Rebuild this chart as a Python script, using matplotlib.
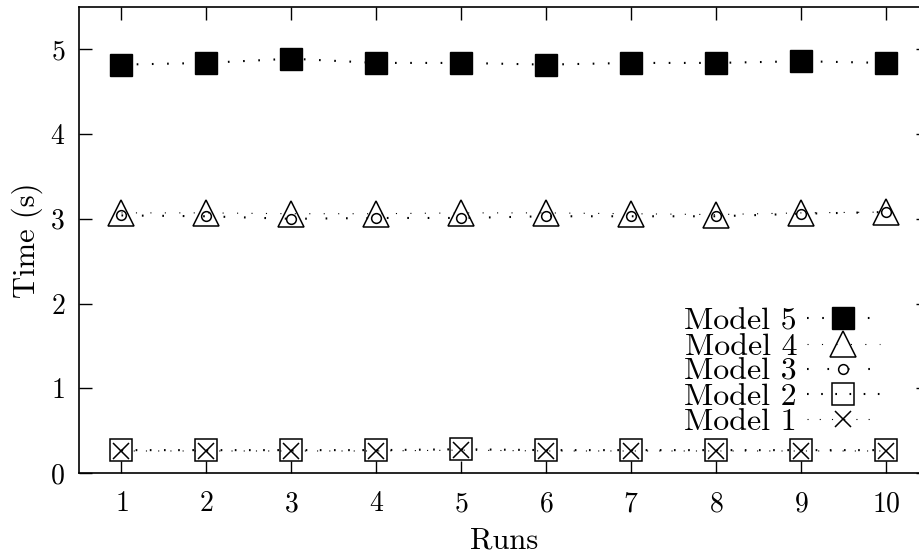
import numpy as np
import matplotlib
matplotlib.use('Agg')
import matplotlib.pyplot as plt

plt.rcParams['font.family'] = ['cmr10', 'DejaVu Serif']
plt.rcParams['axes.formatter.use_mathtext'] = True
plt.rcParams['font.size'] = 22

runs = [1, 2, 3, 4, 5, 6, 7, 8, 9, 10]
model5 = [4.82, 4.84, 4.89, 4.84, 4.84, 4.82, 4.84, 4.84, 4.86, 4.84]
model4 = [3.07, 3.07, 3.06, 3.06, 3.07, 3.07, 3.06, 3.05, 3.07, 3.08]
model3 = [3.04, 3.03, 3.00, 3.01, 3.01, 3.03, 3.03, 3.03, 3.06, 3.08]
model2 = [0.27, 0.27, 0.27, 0.27, 0.28, 0.27, 0.27, 0.27, 0.27, 0.27]
model1 = [0.26, 0.26, 0.26, 0.26, 0.27, 0.26, 0.26, 0.26, 0.26, 0.26]
labels = ['Model 1', 'Model 2', 'Model 3', 'Model 4', 'Model 5']

fig = plt.figure(figsize=(9.2, 5.53), dpi=100)
ax = fig.add_axes([79/920, 80/553, 849.5/920, 466/553])

h1, = ax.plot(runs, model1, color='black', lw=0.8, ls=(0, (1, 10)),
              marker='x', ms=11, mew=1.1, label=labels[0])
h2, = ax.plot(runs, model2, color='black', lw=1.5, ls=(0, (0.8, 6)),
              marker='s', ms=16, mew=1.1, mfc='none', mec='black', label=labels[1])
h3, = ax.plot(runs, model3, color='black', lw=1.5, ls=(0, (0.8, 9)),
              marker='o', ms=7, mew=1.1, mfc='none', mec='black', label=labels[2])
h4, = ax.plot(runs, model4, color='black', lw=0.8, ls=(0, (1, 12)),
              marker='^', ms=19, mew=1.1, mfc='none', mec='black', label=labels[3])
h5, = ax.plot(runs, model5, color='black', lw=1.5, ls=(0, (0.8, 6.5)),
              marker='s', ms=16, mfc='black', mec='black', label=labels[4])

ax.set_xlim(0.5, 10.5)
ax.set_ylim(0, 5.5)
ax.set_xticks(runs)
ax.set_yticks([0, 1, 2, 3, 4, 5])
ax.tick_params(direction='in', length=9, width=1, top=True, right=True, labelsize=20)
ax.tick_params(axis='x', pad=13)
ax.tick_params(axis='y', pad=10)
for s in ax.spines.values():
    s.set_linewidth(1.2)

ax.set_xlabel('Runs', labelpad=7)
ax.set_ylabel('Time (s)', labelpad=5)

ax.legend([h5, h4, h3, h2, h1], [labels[4], labels[3], labels[2], labels[1], labels[0]],
          loc='lower right', bbox_to_anchor=(0.943, 0.079), frameon=False,
          markerfirst=False, handlelength=2.3, handletextpad=0.3,
          labelspacing=-0.1, borderpad=0, borderaxespad=0, numpoints=1, fontsize=23)

fig.savefig('out.png', dpi=100)
